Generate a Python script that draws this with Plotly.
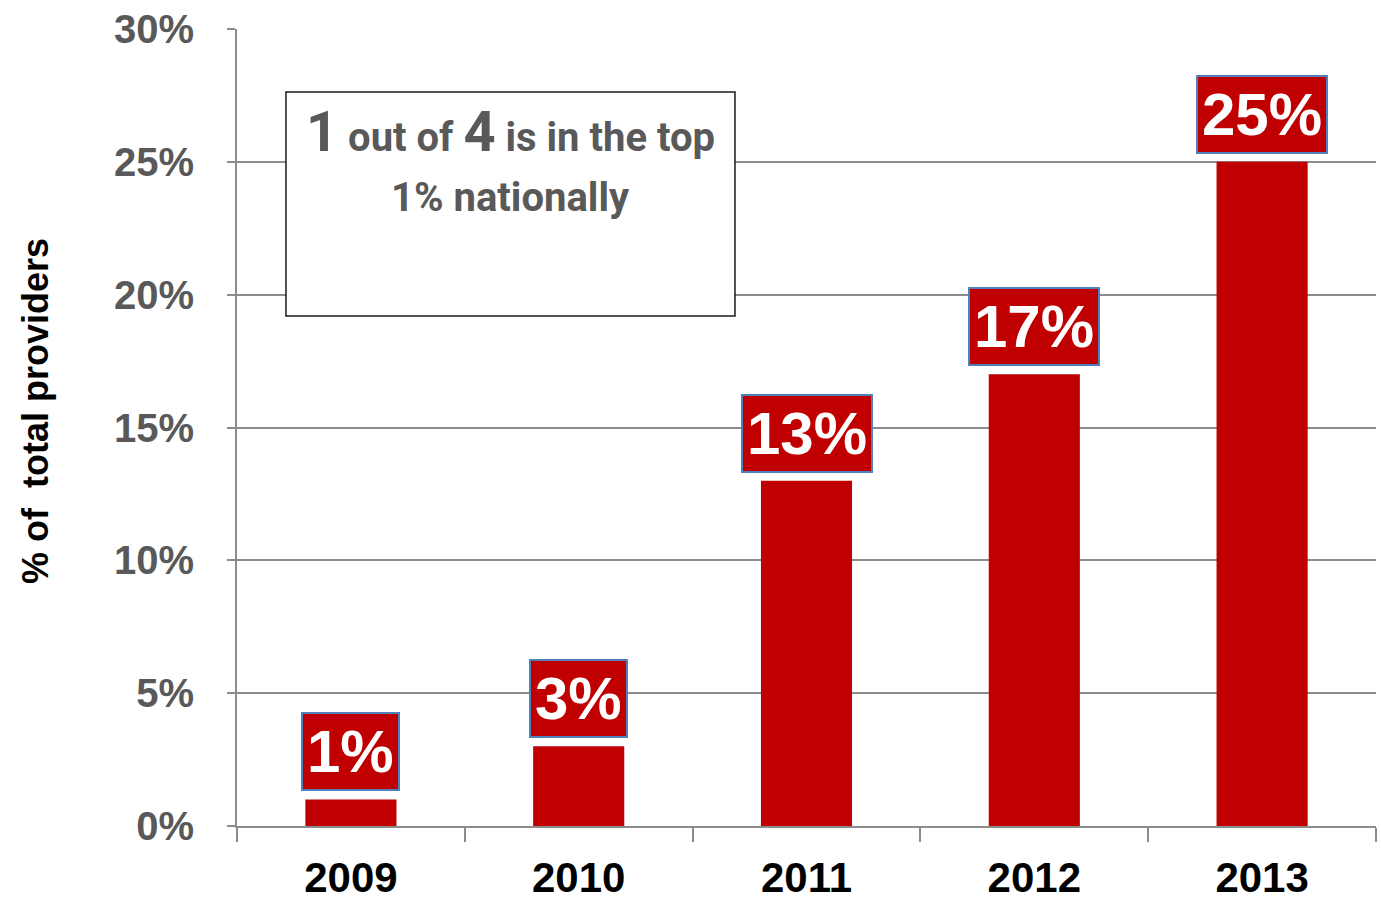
import plotly.graph_objects as go

# Share of providers in the national top 1%, by year
years = ["2009", "2010", "2011", "2012", "2013"]
shares = [0.01, 0.03, 0.13, 0.17, 0.25]
y_ticks = [0, 0.05, 0.10, 0.15, 0.20, 0.25, 0.30]
y_tick_labels = ["0%", "5%", "10%", "15%", "20%", "25%", "30%"]

BAR_RED = "#C00000"
GRID = "#8C8C8C"
TEXT_GREY = "#595959"
CALLOUT_FONT = "Roboto, Liberation Sans, sans-serif"

pos = list(range(len(years)))

fig = go.Figure()
fig.add_trace(go.Bar(
    x=pos,
    y=shares,
    marker=dict(color=BAR_RED, line=dict(width=0)),
    hoverinfo="skip",
))

# Value labels in red boxes above each bar
for p, v in zip(pos, shares):
    fig.add_annotation(
        x=p, y=v, xref="x", yref="y",
        text=f"<b>{round(v * 100)}%</b>",
        showarrow=False,
        xanchor="center", yanchor="bottom", yshift=8,
        font=dict(family="Liberation Sans", size=60, color="white"),
        bgcolor=BAR_RED,
        bordercolor="#4F81BD", borderwidth=2, borderpad=4,
    )

# Call-out box
fig.add_shape(
    type="rect", xref="paper", yref="paper",
    x0=0.0430, x1=0.4372, y0=0.6399, y1=0.9210,
    line=dict(color="#1a1a1a", width=1.5), fillcolor="white",
)
big = "font-size:56px"
fig.add_annotation(
    xref="paper", yref="paper", x=0.2401, y=0.871,
    xanchor="center", yanchor="middle",
    text=f"<b><span style='{big}'>1</span> out of <span style='{big}'>4</span> is in the top</b>",
    showarrow=False,
    font=dict(family=CALLOUT_FONT, size=40, color=TEXT_GREY),
)
fig.add_annotation(
    xref="paper", yref="paper", x=0.2401, y=0.789,
    xanchor="center", yanchor="middle",
    text="<b>1% nationally</b>",
    showarrow=False,
    font=dict(family=CALLOUT_FONT, size=40, color=TEXT_GREY),
)

# Y-axis title
fig.add_annotation(
    xref="paper", yref="paper", x=-0.1773, y=0.5207,
    xanchor="center", yanchor="middle",
    text="<b>% of&nbsp; total providers</b>",
    textangle=-90, showarrow=False,
    font=dict(family="Liberation Sans", size=36, color="black"),
)

fig.update_layout(
    width=1381, height=903,
    margin=dict(l=237, r=5, t=29, b=77),
    paper_bgcolor="white", plot_bgcolor="white",
    bargap=0.6,
    showlegend=False,
    xaxis=dict(
        range=[-0.5, len(years) - 0.5],
        tickvals=pos, ticktext=years,
        showline=True, linecolor=GRID, linewidth=2,
        ticks="",
        minor=dict(ticks="outside", ticklen=14, tickwidth=2, tickcolor=GRID,
                   tick0=-0.5, dtick=1, showgrid=False),
        showgrid=False, zeroline=False,
        tickfont=dict(family="Liberation Sans", size=42, color="black", weight="bold"),
        tickangle=0,
        ticklabelstandoff=14,
        automargin=False,
    ),
    yaxis=dict(
        range=[0, 0.30],
        tickvals=y_ticks, ticktext=y_tick_labels,
        showline=True, linecolor=GRID, linewidth=2,
        ticks="outside", ticklen=8, tickwidth=2, tickcolor=GRID,
        showgrid=True, gridcolor=GRID, gridwidth=2,
        zeroline=False,
        tickfont=dict(family="Liberation Sans", size=40, color=TEXT_GREY, weight="bold"),
        ticklabelstandoff=25,
        automargin=False,
    ),
)

fig.write_html("out.html")
